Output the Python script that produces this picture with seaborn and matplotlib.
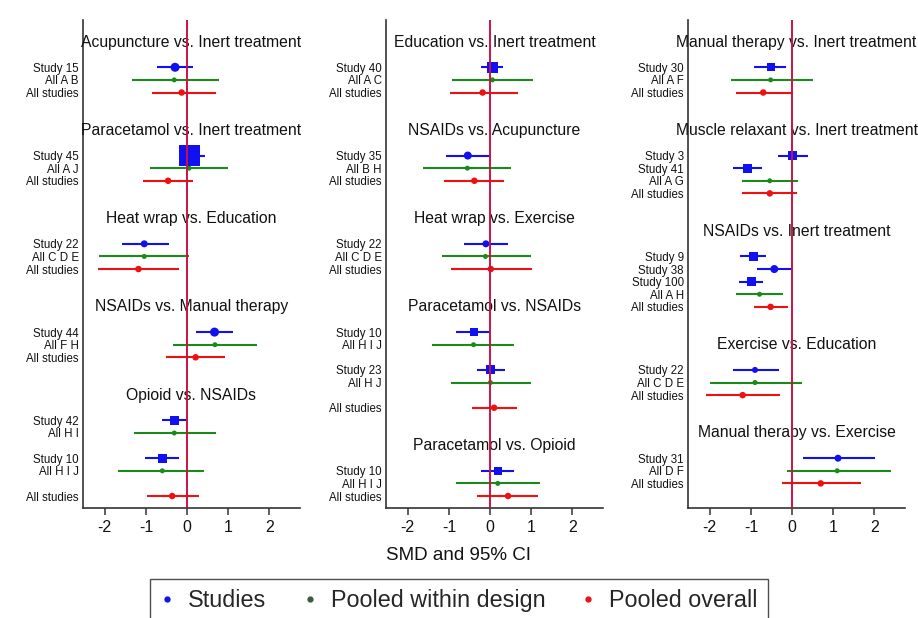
import numpy as np
import pandas as pd
import matplotlib
matplotlib.use("Agg")
import matplotlib.pyplot as plt
import matplotlib.transforms as mtransforms
from matplotlib.lines import Line2D
import seaborn as sns

# ---------------- data ----------------
# kind: S = single study, D = pooled within design, O = pooled overall
# comp = comparison index within panel, group = design group within comparison

p1_titles = ["Acupuncture vs. Inert treatment", "Paracetamol vs. Inert treatment",
             "Heat wrap vs. Education", "NSAIDs vs. Manual therapy", "Opioid vs. NSAIDs"]
p1_label = ["Study 15", "All A B", "All studies",
            "Study 45", "All A J", "All studies",
            "Study 22", "All C D E", "All studies",
            "Study 44", "All F H", "All studies",
            "Study 42", "All H I", "Study 10", "All H I J", "All studies"]
p1_kind = ["S", "D", "O", "S", "D", "O", "S", "D", "O", "S", "D", "O", "S", "D", "S", "D", "O"]
p1_comp = [0, 0, 0, 1, 1, 1, 2, 2, 2, 3, 3, 3, 4, 4, 4, 4, 4]
p1_group = [0, 0, 0, 0, 0, 0, 0, 0, 0, 0, 0, 0, 0, 0, 1, 1, 2]
p1_est = [-0.29, -0.31, -0.13, 0.05, 0.05, -0.46, -1.04, -1.04, -1.18, 0.67, 0.68, 0.21, -0.31, -0.31, -0.60, -0.60, -0.36]
p1_lo = [-0.73, -1.34, -0.85, -0.20, -0.90, -1.07, -1.59, -2.15, -2.16, 0.21, -0.35, -0.52, -0.60, -1.28, -1.02, -1.69, -0.98]
p1_hi = [0.15, 0.77, 0.71, 0.45, 1.00, 0.14, -0.44, 0.05, -0.19, 1.13, 1.71, 0.93, 0.02, 0.70, -0.19, 0.42, 0.30]

p2_titles = ["Education vs. Inert treatment", "NSAIDs vs. Acupuncture",
             "Heat wrap vs. Exercise", "Paracetamol vs. NSAIDs", "Paracetamol vs. Opioid"]
p2_label = ["Study 40", "All A C", "All studies",
            "Study 35", "All B H", "All studies",
            "Study 22", "All C D E", "All studies",
            "Study 10", "All H I J", "Study 23", "All H J", "All studies",
            "Study 10", "All H I J", "All studies"]
p2_kind = ["S", "D", "O", "S", "D", "O", "S", "D", "O", "S", "D", "S", "D", "O", "S", "D", "O"]
p2_comp = [0, 0, 0, 1, 1, 1, 2, 2, 2, 3, 3, 3, 3, 3, 4, 4, 4]
p2_group = [0, 0, 0, 0, 0, 0, 0, 0, 0, 0, 0, 1, 1, 2, 0, 0, 0]
p2_est = [0.05, 0.06, -0.18, -0.54, -0.55, -0.38, -0.10, -0.11, 0.02, -0.40, -0.40, 0.01, 0.01, 0.10, 0.19, 0.19, 0.44]
p2_lo = [-0.22, -0.92, -0.98, -1.08, -1.64, -1.12, -0.64, -1.16, -0.96, -0.82, -1.40, -0.32, -0.94, -0.44, -0.22, -0.82, -0.32]
p2_hi = [0.32, 1.04, 0.67, -0.03, 0.51, 0.35, 0.44, 0.99, 1.03, 0.00, 0.59, 0.36, 1.01, 0.65, 0.59, 1.21, 1.16]

p3_titles = ["Manual therapy vs. Inert treatment", "Muscle relaxant vs. Inert treatment",
             "NSAIDs vs. Inert treatment", "Exercise vs. Education", "Manual therapy vs. Exercise"]
p3_label = ["Study 30", "All A F", "All studies",
            "Study 3", "Study 41", "All A G", "All studies",
            "Study 9", "Study 38", "Study 100", "All A H", "All studies",
            "Study 22", "All C D E", "All studies",
            "Study 31", "All D F", "All studies"]
p3_kind = ["S", "D", "O", "S", "S", "D", "O", "S", "S", "S", "D", "O", "S", "D", "O", "S", "D", "O"]
p3_comp = [0, 0, 0, 1, 1, 1, 1, 2, 2, 2, 2, 2, 3, 3, 3, 4, 4, 4]
p3_group = [0] * 18
p3_est = [-0.52, -0.52, -0.70, 0.02, -1.08, -0.54, -0.54, -0.94, -0.43, -0.99, -0.79, -0.52, -0.90, -0.90, -1.20, 1.12, 1.10, 0.70]
p3_lo = [-0.92, -1.49, -1.37, -0.35, -1.44, -1.22, -1.22, -1.26, -0.86, -1.30, -1.36, -0.92, -1.44, -1.99, -2.08, 0.26, -0.11, -0.25]
p3_hi = [-0.15, 0.50, 0.00, 0.40, -0.72, 0.15, 0.13, -0.63, 0.02, -0.71, -0.23, -0.09, -0.31, 0.24, -0.29, 2.01, 2.42, 1.69]

xticks = [-2, -1, 0, 1, 2]
legend_labels = ["Studies", "Pooled within design", "Pooled overall"]

# ---------------- styles ----------------
# marker shape/size (px) for each study row, in row order, per panel
p1_smark = ["o", "s", "o", "o", "s", "s"]
p1_ssize = [9, 21, 7, 9, 9, 9]
p2_smark = ["s", "o", "o", "s", "s", "s"]
p2_ssize = [11, 8, 7, 8, 9, 8]
p3_smark = ["s", "s", "s", "s", "o", "s", "o", "o"]
p3_ssize = [8, 9, 9, 9, 8, 9, 6, 7]

colors = {"S": "#1010f0", "D": "#1a8a1a", "O": "#f01010"}
px2pt = 72 / 100.0

sns.set_theme(style="white")
plt.rcParams["font.family"] = ["Liberation Sans", "DejaVu Sans"]
plt.rcParams["axes.unicode_minus"] = False

fig = plt.figure(figsize=(9.18, 6.18), dpi=100)
W, H = 918, 618


def layout(comp, group):
    rows, trows = [], []
    r = 0
    pc, pg = None, None
    for c, g in zip(comp, group):
        if c != pc:
            if pc is not None:
                r += 3
            trows.append(r)
            r += 2
        elif g != pg:
            r += 2
        else:
            r += 1
        rows.append(r)
        pc, pg = c, g
    return rows, trows


panels = [
    (83, p1_titles, p1_label, p1_kind, p1_comp, p1_group, p1_est, p1_lo, p1_hi, p1_smark, p1_ssize),
    (386, p2_titles, p2_label, p2_kind, p2_comp, p2_group, p2_est, p2_lo, p2_hi, p2_smark, p2_ssize),
    (688, p3_titles, p3_label, p3_kind, p3_comp, p3_group, p3_est, p3_lo, p3_hi, p3_smark, p3_ssize),
]

top_px, bot_px = 20, 508
for (left_px, titles, label, kind, comp, group, est, lo, hi, smark, ssize) in panels:
    ax = fig.add_axes([left_px / W, 1 - bot_px / H, 217 / W, (bot_px - top_px) / H])
    rows, trows = layout(comp, group)
    df = pd.DataFrame({"row": rows, "label": label, "kind": kind, "est": est, "lo": lo, "hi": hi})
    # marker styles
    marks, sizes = [], []
    si = 0
    for k in kind:
        if k == "S":
            marks.append(smark[si]); sizes.append((ssize[si] * px2pt) ** 2); si += 1
        elif k == "D":
            marks.append("o"); sizes.append((5 * px2pt) ** 2)
        else:
            marks.append("o"); sizes.append((6.5 * px2pt) ** 2)
    df["mark"] = marks
    df["sz"] = sizes

    for k in ["D", "O", "S"]:
        sub = df[df.kind == k]
        ax.hlines(sub["row"], sub["lo"], sub["hi"], colors=colors[k], lw=1.5, zorder=2)
        for m in sub["mark"].unique():
            sm = sub[sub["mark"] == m]
            sns.scatterplot(data=sm, x="est", y="row", ax=ax, color=colors[k], marker=m,
                            s=sm["sz"].values, linewidth=0, zorder=3, legend=False)

    ax.axvline(0, color="#cc1244", lw=1.4, zorder=4)
    trans = mtransforms.blended_transform_factory(ax.transAxes, ax.transData)
    for t, r in zip(titles, trows):
        ax.text(0.5, r, t, transform=trans, ha="center", va="center", fontsize=11.3,
                color="#111111", clip_on=False)

    ax.set_xlim(-2.53, 2.75)
    ax.set_ylim(36.95, -1.75)
    ax.set_yticks(rows)
    ax.set_yticklabels(label, fontsize=8.3, color="#111111")
    ax.set_xticks(xticks)
    ax.set_xticklabels([str(v) for v in xticks], fontsize=11.5, color="#111111")
    ax.tick_params(axis="y", length=0, pad=3)
    ax.tick_params(axis="x", length=5, width=1.1, color="#333333", direction="out", pad=4, bottom=True)
    ax.set_xlabel("")
    ax.set_ylabel("")
    for s in ["top", "right"]:
        ax.spines[s].set_visible(False)
    for s in ["left", "bottom"]:
        ax.spines[s].set_color("#333333")
        ax.spines[s].set_linewidth(1.2)
    ax.set_facecolor("none")
    ax.grid(False)

fig.text(0.5, 1 - 556 / H, "SMD and 95% CI", ha="center", va="center", fontsize=13.5, color="#111111")

handles = [Line2D([], [], marker="o", linestyle="", color=c, markersize=3.5)
           for c in ["#1010f0", "#3d5a3d", "#f01010"]]
leg = fig.legend(handles, legend_labels, loc="upper center", bbox_to_anchor=(0.5, 1 - 567 / H),
                 ncol=3, fontsize=16.8, frameon=True, handlelength=0.6, handletextpad=0.6,
                 columnspacing=1.55, borderpad=0.45, fancybox=False)
leg.get_frame().set_edgecolor("#222222")
leg.get_frame().set_linewidth(1.0)

fig.savefig("out.png", dpi=100)
